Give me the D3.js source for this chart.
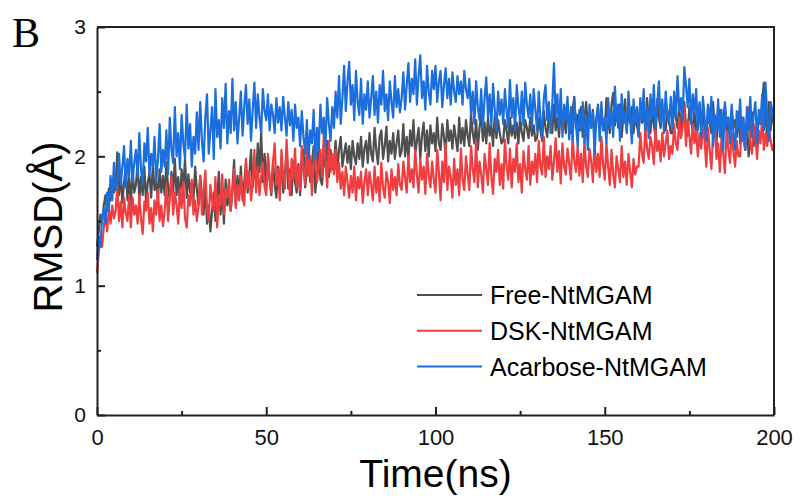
<!DOCTYPE html>
<html lang="en">
<head>
    <meta charset="UTF-8">
    <title>RMSD</title>
    <style>
      body { margin: 0; background: #fff; }
    </style>
</head>
<body>
    <script src="https://d3js.org/d3.v7.min.js"></script>
    <div id="my_dataviz"></div>
    <script>
        // time axis, one sample every 0.5 ns
        const timeStart = 0, timeStep = 0.5;
        const xMajorTicks = [0, 50, 100, 150, 200];
        const xMinorTicks = [25, 75, 125, 175];
        const yMajorTicks = [0, 1, 2, 3];
        const yMinorTicks = [0.5, 1.5, 2.5];
        const seriesNames = ["Free-NtMGAM", "DSK-NtMGAM", "Acarbose-NtMGAM"];

        // RMSD values (Å), 20 samples per 10 ns row
        const freeRmsd = [
          1.30,1.42,1.55,1.48,1.62,1.70,1.58,1.75,1.66,1.82,1.72,1.78,2.03,1.70,1.86,1.64,1.80,1.92,1.66,1.84,
          1.62,1.90,1.72,1.78,1.95,1.66,1.84,1.70,1.92,1.64,1.80,1.87,1.68,1.93,1.74,1.82,1.66,1.90,1.72,1.85,
          1.70,1.95,1.76,1.66,1.88,1.72,1.98,1.70,1.84,1.64,1.90,1.75,1.98,1.68,1.86,1.72,1.80,1.66,1.92,1.74,
          1.62,1.85,1.70,1.55,1.78,1.48,1.62,1.42,1.58,1.72,1.50,1.66,1.88,1.55,1.76,1.48,1.82,1.62,1.70,1.58,
          1.75,1.97,1.62,1.85,1.70,1.92,1.66,1.80,1.95,1.72,1.86,2.05,1.76,1.92,1.82,2.10,1.88,2.19,1.80,2.02,
          1.75,2.00,1.82,1.70,1.95,1.78,1.68,1.92,1.76,1.98,1.72,1.86,2.02,1.75,1.90,1.70,1.96,1.80,1.72,1.94,
          1.70,1.92,2.05,1.76,1.88,2.13,1.80,1.95,2.08,1.72,1.90,2.10,1.82,1.78,2.00,1.92,2.12,1.84,2.05,1.90,
          1.95,2.12,1.90,2.05,2.15,1.92,2.02,2.10,1.95,2.08,1.90,2.12,2.00,1.94,2.10,1.98,2.15,1.92,2.06,2.12,
          1.95,2.18,2.02,1.96,2.22,2.05,1.94,2.15,2.20,1.98,2.08,2.23,1.96,2.12,2.02,2.18,1.98,2.10,2.20,2.00,
          2.04,2.25,2.00,2.15,1.98,2.20,2.08,2.28,2.02,2.12,2.22,1.98,2.16,2.26,2.04,2.20,2.00,2.24,2.10,2.18,
          2.04,2.30,2.10,2.05,2.25,2.15,2.02,2.28,2.12,2.20,2.06,2.24,2.14,2.04,2.30,2.10,2.22,2.08,2.28,2.16,
          2.08,2.33,2.18,2.10,2.28,2.05,2.22,2.32,2.12,2.26,2.10,2.30,2.16,2.24,2.08,2.32,2.14,2.28,2.18,2.10,
          2.12,2.28,2.20,2.10,2.30,2.16,2.24,2.14,2.26,2.10,2.31,2.18,2.12,2.28,2.22,2.14,2.30,2.16,2.24,2.12,
          2.14,2.30,2.20,2.12,2.35,2.22,2.15,2.32,2.26,2.18,2.40,2.20,2.30,2.15,2.36,2.22,2.28,2.18,2.38,2.24,
          2.18,2.36,2.46,2.22,2.32,2.20,2.38,2.15,2.30,2.42,2.24,2.34,2.22,2.36,2.16,2.28,2.40,2.20,2.32,2.26,
          2.20,2.45,2.28,2.18,2.40,2.49,2.24,2.36,2.22,2.40,2.15,2.32,2.44,2.20,2.35,2.26,2.38,2.18,2.30,2.24,
          2.16,2.42,2.26,2.34,2.20,2.45,2.28,2.18,2.38,2.24,2.15,2.44,2.30,2.22,2.40,2.26,2.20,2.36,2.28,2.18,
          2.18,2.45,2.30,2.22,2.40,2.15,2.34,2.42,2.24,2.16,2.38,2.28,2.20,2.36,2.14,2.30,2.40,2.22,2.32,2.18,
          2.12,2.38,2.26,2.18,2.42,2.20,2.10,2.32,2.36,2.14,2.28,2.40,2.18,2.30,2.12,2.35,2.22,2.28,2.15,2.34,
          2.10,2.30,2.20,2.05,2.28,2.00,2.15,2.34,2.08,2.22,2.12,2.30,2.26,2.40,2.57,2.30,2.15,2.42,2.20,2.34,
          2.25
        ];
        const dskRmsd = [
          1.10,1.25,1.38,1.30,1.45,1.55,1.42,1.60,1.48,1.62,1.52,1.58,1.76,1.50,1.65,1.45,1.68,1.56,1.50,1.70,
          1.45,1.68,1.55,1.62,1.48,1.70,1.52,1.40,1.65,1.58,1.72,1.48,1.60,1.42,1.66,1.55,1.74,1.50,1.62,1.46,
          1.58,1.78,1.50,1.68,1.84,1.55,1.72,1.62,1.48,1.75,1.60,1.80,1.52,1.45,1.70,1.62,1.82,1.55,1.66,1.50,
          1.62,1.85,1.55,1.72,1.89,1.60,1.50,1.78,1.66,1.58,1.84,1.45,1.70,1.62,1.86,1.55,1.75,1.68,1.82,1.58,
          1.72,1.90,1.60,1.78,1.66,1.85,1.70,1.62,1.98,1.75,1.88,1.66,1.80,2.05,1.72,1.92,1.70,1.84,1.95,1.76,
          1.70,2.02,1.82,1.72,1.96,2.10,1.78,1.90,1.66,2.05,1.84,1.75,2.13,1.88,1.70,1.98,1.82,2.06,1.76,1.92,
          1.74,2.08,1.90,1.78,2.15,1.85,2.00,1.70,1.95,2.10,1.80,1.92,2.05,1.84,2.19,1.96,1.76,2.12,1.88,2.02,
          1.86,2.05,1.80,1.95,1.75,1.88,1.70,1.92,1.80,1.68,1.85,1.72,1.92,1.66,1.84,1.75,1.88,1.64,1.80,1.90,
          1.70,1.88,1.78,1.66,1.92,1.72,1.84,1.65,1.95,1.76,1.68,1.88,1.80,1.64,1.90,1.74,1.84,1.70,1.94,1.78,
          1.74,1.96,1.84,1.72,2.00,1.80,1.90,1.76,2.05,1.86,1.72,1.98,1.82,1.92,1.71,2.02,1.85,1.76,1.96,1.82,
          1.72,2.05,1.88,1.66,1.96,1.80,2.10,1.74,1.92,1.84,1.68,1.98,1.78,1.90,1.70,2.06,1.82,1.74,2.00,1.86,
          1.74,2.08,1.90,1.80,2.12,1.76,1.96,1.86,1.72,2.02,1.90,1.78,2.10,1.84,1.71,1.98,1.88,2.05,1.78,1.94,
          1.75,2.13,1.92,1.82,2.06,1.76,1.98,1.88,2.10,1.80,1.94,1.72,2.04,1.90,1.82,2.08,1.78,1.96,1.86,2.02,
          1.80,2.12,1.92,1.86,2.15,1.84,2.00,1.90,2.08,1.82,1.96,2.14,1.88,2.04,1.79,2.10,1.92,1.86,2.06,1.94,
          1.82,2.15,1.96,1.88,2.08,1.85,2.02,1.80,2.12,1.92,1.84,2.06,1.96,1.80,2.10,1.88,2.02,1.84,2.15,1.94,
          1.82,2.10,1.92,1.78,2.05,1.86,1.76,2.00,1.90,1.80,2.08,1.84,1.96,1.78,2.02,1.88,1.76,1.98,1.86,1.92,
          1.92,2.18,2.02,1.95,2.23,2.06,1.98,2.15,2.08,1.94,2.22,2.04,2.12,1.96,2.18,2.00,2.10,2.20,1.98,2.08,
          2.02,2.25,2.10,2.05,2.30,2.14,2.22,2.38,2.08,2.28,2.16,2.02,2.25,2.10,2.20,2.00,2.18,2.06,2.24,2.12,
          1.92,2.22,2.05,1.90,2.16,2.26,1.98,2.10,1.88,2.15,2.02,1.87,2.20,2.06,1.95,2.18,2.04,1.92,2.12,2.00,
          2.00,2.30,2.12,2.05,2.25,2.38,2.10,2.02,2.25,2.15,1.98,2.20,2.10,2.30,2.05,2.18,2.08,2.22,2.12,2.05,
          2.10
        ];
        const acarboseRmsd = [
          1.20,1.38,1.30,1.52,1.60,1.48,1.72,1.58,1.85,1.66,1.95,1.74,1.80,2.02,1.78,1.92,2.08,1.76,1.98,1.84,
          2.12,1.80,1.95,2.05,1.84,2.18,1.90,1.78,2.10,1.96,2.22,1.85,2.02,1.92,2.15,1.80,1.98,2.25,1.88,2.05,
          1.92,2.20,1.86,2.30,2.05,1.95,2.38,2.00,2.18,1.90,2.32,2.10,1.98,2.40,2.06,2.25,1.92,2.15,2.02,2.34,
          2.05,2.42,2.12,1.96,2.30,2.48,2.02,2.20,2.38,1.98,2.52,2.15,2.28,2.06,2.45,2.22,2.56,2.10,2.35,2.18,
          2.60,2.20,2.42,2.10,2.30,2.50,2.16,2.38,2.55,2.25,2.44,2.12,2.36,2.57,2.22,2.48,2.30,2.18,2.52,2.35,
          2.28,2.48,2.20,2.40,2.32,2.18,2.45,2.26,2.38,2.20,2.46,2.30,2.16,2.42,2.24,2.36,2.12,2.40,2.22,2.30,
          2.08,2.35,2.15,2.02,2.28,1.98,2.20,2.10,2.36,1.97,2.22,2.05,2.40,2.18,2.30,2.08,2.45,2.25,2.12,2.38,
          2.22,2.50,2.30,2.62,2.25,2.45,2.70,2.35,2.58,2.73,2.40,2.55,2.28,2.66,2.42,2.32,2.60,2.25,2.48,2.36,
          2.58,2.30,2.45,2.62,2.32,2.50,2.26,2.55,2.40,2.66,2.35,2.48,2.28,2.58,2.42,2.30,2.62,2.38,2.52,2.34,
          2.45,2.65,2.36,2.55,2.72,2.42,2.60,2.48,2.75,2.40,2.62,2.78,2.45,2.58,2.36,2.70,2.50,2.40,2.66,2.52,
          2.70,2.42,2.58,2.66,2.38,2.55,2.68,2.45,2.60,2.40,2.65,2.50,2.42,2.62,2.48,2.58,2.40,2.66,2.52,2.45,
          2.60,2.32,2.50,2.25,2.58,2.38,2.28,2.52,2.22,2.45,2.61,2.30,2.48,2.24,2.56,2.36,2.20,2.50,2.32,2.44,
          2.25,2.52,2.35,2.22,2.59,2.30,2.45,2.20,2.55,2.38,2.28,2.50,2.24,2.57,2.40,2.30,2.48,2.22,2.52,2.36,
          2.20,2.50,2.30,2.15,2.45,2.55,2.28,2.42,2.18,2.40,2.72,2.30,2.48,2.22,2.52,2.15,2.40,2.28,2.46,2.13,
          2.38,2.12,2.44,2.25,2.08,2.36,2.20,2.42,2.10,2.30,2.05,2.40,2.22,2.34,2.02,2.28,2.38,2.12,2.42,2.20,
          2.30,2.10,2.45,2.22,2.36,2.15,2.54,2.28,2.40,2.12,2.48,2.25,2.34,2.18,2.50,2.30,2.10,2.44,2.26,2.38,
          2.15,2.45,2.28,2.52,2.20,2.38,2.14,2.48,2.30,2.55,2.22,2.40,2.58,2.26,2.44,2.18,2.50,2.32,2.25,2.46,
          2.22,2.50,2.30,2.62,2.35,2.45,2.28,2.69,2.55,2.38,2.60,2.25,2.48,2.34,2.52,2.20,2.42,2.15,2.46,2.30,
          2.12,2.40,2.25,2.46,2.08,2.32,2.20,2.44,2.15,2.36,2.05,2.42,2.24,2.30,2.10,2.40,2.18,2.05,2.35,2.22,
          2.44,2.12,2.30,2.05,2.38,2.20,2.46,2.15,2.32,2.42,2.10,2.36,2.25,2.48,2.20,2.57,2.30,2.12,2.42,2.35,
          2.28
        ];
        const seriesColors = ["#4f4f4f", "#ef3d40", "#1b6edd"];

        // plot frame in page pixels
        var margin = {top: 27, right: 26, bottom: 81, left: 97},
          width = 800 - margin.left - margin.right,
          height = 496 - margin.top - margin.bottom;

        const svg = d3.select("#my_dataviz")
          .append("svg")
          .attr("width", 800)
          .attr("height", 496)
          .style("font-family", "Liberation Sans, Arial, sans-serif")
          .append("g")
          .attr("transform", `translate(${margin.left}, ${margin.top})`);

        const x = d3.scaleLinear().domain([0, 200]).range([0, width]);
        const y = d3.scaleLinear().domain([0, 3]).range([height, 0]);

        // data lines (Free first, Acarbose drawn last / on top)
        const allSeries = [freeRmsd, dskRmsd, acarboseRmsd];
        const line = d3.line()
          .x((d, i) => x(timeStart + i * timeStep))
          .y(d => y(d));
        allSeries.forEach((vals, k) => {
          svg.append("path")
            .datum(vals)
            .attr("fill", "none")
            .attr("stroke", seriesColors[k])
            .attr("stroke-width", 2.2)
            .attr("stroke-linejoin", "round")
            .attr("d", line);
        });

        // axes: major ticks with labels, minor ticks without, all pointing in
        svg.append("g")
          .attr("transform", `translate(0, ${height})`)
          .call(d3.axisBottom(x).tickValues(xMajorTicks).tickFormat(d3.format("d"))
            .tickSize(-8).tickPadding(14.5).tickSizeOuter(0))
          .style("font-size", "22px");
        svg.append("g")
          .attr("transform", `translate(0, ${height})`)
          .call(d3.axisBottom(x).tickValues(xMinorTicks).tickSize(-4).tickFormat("").tickSizeOuter(0))
          .select(".domain").remove();

        svg.append("g")
          .call(d3.axisLeft(y).tickValues(yMajorTicks).tickFormat(d3.format("d"))
            .tickSize(-8).tickPadding(11).tickSizeOuter(0))
          .style("font-size", "21px");
        svg.append("g")
          .call(d3.axisLeft(y).tickValues(yMinorTicks).tickSize(-4).tickFormat("").tickSizeOuter(0))
          .select(".domain").remove();

        svg.selectAll(".tick text").attr("fill", "#111").style("font-family", "Liberation Sans, Arial, sans-serif");
        svg.selectAll(".domain, .tick line").attr("stroke", "#222").attr("stroke-width", 2);

        // top and right border
        svg.append("path")
          .attr("d", `M0,0H${width}V${height}`)
          .attr("fill", "none")
          .attr("stroke", "#222")
          .attr("stroke-width", 2);

        // axis titles
        svg.append("text")
          .attr("x", width / 2)
          .attr("y", height + 72)
          .attr("text-anchor", "middle")
          .style("font-size", "39px")
          .attr("fill", "#000")
          .text("Time(ns)");

        svg.append("text")
          .attr("transform", `translate(${62 - margin.left}, ${227 - margin.top}) rotate(-90)`)
          .attr("text-anchor", "middle")
          .style("font-size", "40px")
          .attr("fill", "#000")
          .text("RMSD(Å)");

        // panel letter
        svg.append("text")
          .attr("x", 12 - margin.left)
          .attr("y", 47 - margin.top)
          .style("font-family", "Liberation Serif, Times New Roman, serif")
          .style("font-size", "42px")
          .attr("fill", "#000")
          .text("B");

        // legend
        const legend = svg.append("g")
          .attr("transform", `translate(${417 - margin.left}, ${295 - margin.top})`);
        seriesNames.forEach((name, k) => {
          const row = legend.append("g").attr("transform", `translate(0, ${k * 35.8})`);
          row.append("line")
            .attr("x1", 0).attr("x2", 65)
            .attr("stroke", seriesColors[k])
            .attr("stroke-width", 2);
          row.append("text")
            .attr("x", 73)
            .attr("dy", "0.36em")
            .style("font-size", "25px")
            .attr("fill", "#000")
            .text(name);
        });
    </script>
</body>
</html>
